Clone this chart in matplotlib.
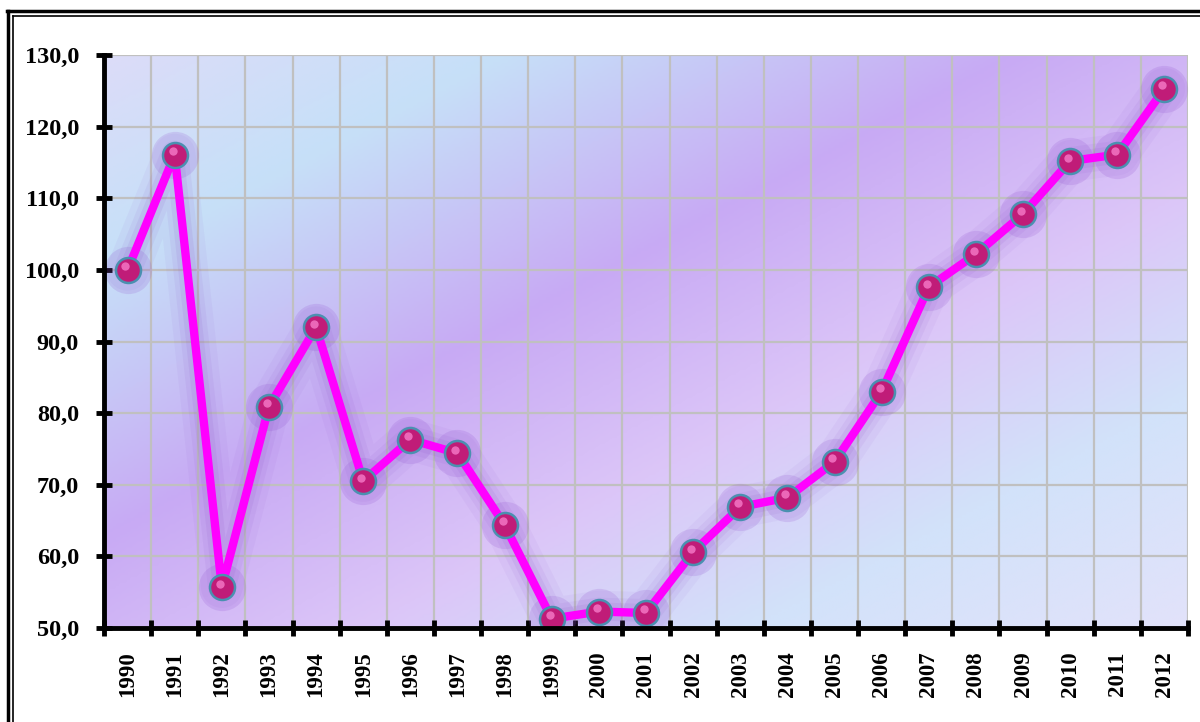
import matplotlib
matplotlib.use("Agg")
import matplotlib.pyplot as plt
import numpy as np
from matplotlib.colors import LinearSegmentedColormap
from matplotlib.lines import Line2D
import matplotlib.transforms as mtransforms

years = ["1990", "1991", "1992", "1993", "1994", "1995", "1996", "1997", "1998",
         "1999", "2000", "2001", "2002", "2003", "2004", "2005", "2006", "2007",
         "2008", "2009", "2010", "2011", "2012"]
values = [100.0, 116.1, 55.7, 80.9, 92.0, 70.5, 76.3, 74.4, 64.4,
          51.3, 52.3, 52.1, 60.6, 66.9, 68.2, 73.2, 83.0, 97.6,
          102.2, 107.8, 115.2, 116.1, 125.3]
y_ticks = [50, 60, 70, 80, 90, 100, 110, 120, 130]
y_labels = ["50,0", "60,0", "70,0", "80,0", "90,0", "100,0", "110,0", "120,0", "130,0"]

plt.rcParams['font.family'] = ['Liberation Serif', 'DejaVu Serif']

fig = plt.figure(figsize=(12, 7.22), dpi=100)
ax = fig.add_axes([104/1200, 1-628/722, (1188-104)/1200, (628-55)/722])

# gradient background
stops = [(0.0, "#dcdcf8"), (0.18, "#c6e0f8"), (0.42, "#c8aaf4"),
         (0.62, "#dcc6f8"), (0.80, "#d2e2fa"), (1.0, "#e2e2fa")]
cmap = LinearSegmentedColormap.from_list("bg", stops)
nx, ny = 300, 200
gx, gy = np.meshgrid(np.linspace(0, 1, nx), np.linspace(0, 1, ny))
s = (gx + gy) / 2.0
ax.imshow(s, cmap=cmap, extent=[0, 1, 0, 1], transform=ax.transAxes,
          aspect='auto', origin='upper', zorder=0, interpolation='bilinear')

x = np.arange(len(years))
ax.set_xlim(-0.5, len(years) - 0.5)
ax.set_ylim(50, 130)

# grid
for b in np.arange(0.5, len(years) - 0.5, 1.0):
    ax.axvline(b, color="#c0c0c0", lw=1.6, zorder=1)
ax.axvline(len(years) - 0.5, color="#c0c0c0", lw=1.6, zorder=1)
for yv in y_ticks[1:]:
    ax.axhline(yv, color="#c0c0c0", lw=1.6, zorder=1)

# glow
for w, a in [(30, 0.05), (20, 0.07), (13, 0.09)]:
    ax.plot(x, values, color="#8040c0", lw=w, alpha=a, solid_capstyle='round',
            solid_joinstyle='round', zorder=2)
ax.plot(x, values, linestyle='none', marker='o', markersize=34,
        markerfacecolor="#9050d0", markeredgecolor='none', alpha=0.18, zorder=2)
ax.plot(x, values, color="#ff00ff", lw=6, solid_joinstyle='round', zorder=3)
ax.plot(x, values, linestyle='none', marker='o', markersize=18,
        markerfacecolor="#c01c78", markeredgecolor="#4a90b0", markeredgewidth=1.8, zorder=4)
offset = mtransforms.ScaledTranslation(-1.5/72, 2.5/72, fig.dpi_scale_trans)
ax.plot(x, values, linestyle='none', marker='o', markersize=6,
        markerfacecolor="#f070c0", markeredgecolor='none', alpha=0.9,
        transform=ax.transData + offset, zorder=5)

# spines
for sp in ['top', 'right']:
    ax.spines[sp].set_visible(False)
ax.spines['left'].set_linewidth(3.5)
ax.spines['bottom'].set_linewidth(3.5)
ax.spines['left'].set_zorder(6)
ax.spines['bottom'].set_zorder(6)

ax.set_yticks(y_ticks)
ax.set_yticklabels(y_labels, fontsize=17.5, fontweight='bold')
ax.tick_params(axis='y', direction='inout', length=12, width=3.5, pad=12)

ax.set_xticks(x)
ax.set_xticklabels(years, rotation=90, fontsize=16.5, fontweight='bold')
ax.tick_params(axis='x', which='major', length=0, pad=17)
ax.set_xticks(np.arange(-0.5, len(years), 1.0), minor=True)
ax.tick_params(axis='x', which='minor', direction='inout', length=12, width=3.5)

# double frame (top and left visible)
fig.add_artist(Line2D([7/1200, 1.0], [1-11/722, 1-11/722], color='black', lw=2.5, transform=fig.transFigure))
fig.add_artist(Line2D([13/1200, 1.0], [1-16/722, 1-16/722], color='black', lw=1.2, transform=fig.transFigure))
fig.add_artist(Line2D([8/1200, 8/1200], [0, 1-11/722], color='black', lw=2.5, transform=fig.transFigure))
fig.add_artist(Line2D([13/1200, 13/1200], [0, 1-16/722], color='black', lw=1.2, transform=fig.transFigure))

fig.savefig("out.png", dpi=100)
